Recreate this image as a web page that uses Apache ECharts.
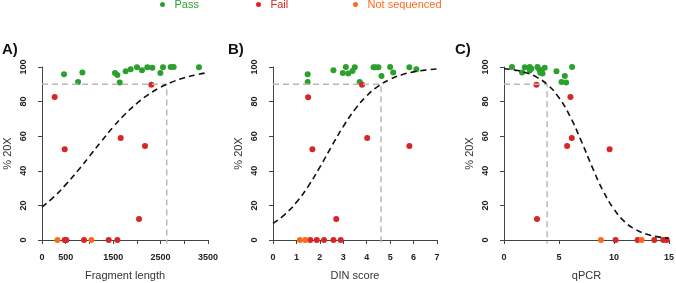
<!DOCTYPE html>
<html>
<head>
<meta charset="utf-8">
<script src="https://cdn.jsdelivr.net/npm/echarts@6/dist/echarts.min.js"></script>
<style>
  html, body { margin: 0; padding: 0; background: #fff; }
  #chart { width: 676px; height: 283px; }
</style>
</head>
<body>
<div id="chart"></div>
<script>
// ---- data ----
var passA = [[464,95.8],[760,91.4],[851,96.8],[1539,96.6],[1589,95.4],[1638,91.0],[1764,97.5],[1870,98.7],[2003,99.8],[2108,98.1],[2221,99.8],[2327,99.6],[2496,96.6],[2551,99.8],[2713,100],[2776,100],[3310,99.8]];
var failA = [[267,82.7],[478,52.5],[1659,59.0],[2172,54.4],[2045,12.1],[2305,89.8],[479,0],[514,0],[885,0],[1406,0],[1589,0]];
var nsA = [[325,0],[1041,0]];
var curveA = [[0,19],[250,24.9],[500,32],[750,39.9],[1000,48.4],[1250,57],[1500,65.3],[1750,72.7],[2000,79],[2250,84.2],[2500,88.3],[2750,91.4],[3000,93.8],[3250,95.5],[3500,96.8]];
var refA = [[0,90],[2630,90],[2630,-2]];

var passB = [[1.48,95.8],[1.48,91.4],[2.58,98.1],[2.98,96.6],[3.11,100],[3.21,96.2],[3.39,97.7],[3.49,99.8],[3.70,91.4],[4.29,99.8],[4.38,99.8],[4.50,99.8],[4.63,94.8],[5.0,100],[5.13,96.8],[5.82,99.8],[6.12,98.7]];
var failB = [[1.5,82.5],[1.68,52.5],[2.7,12.1],[4.02,59.0],[5.82,54.4],[3.8,89.8],[1.59,0],[1.87,0],[2.18,0],[2.58,0],[2.89,0]];
var nsB = [[1.15,0],[1.38,0]];
var curveB = [[0,9.6],[0.5,14.7],[1,21.8],[1.5,31],[2,42.1],[2.5,54.1],[3,65.6],[3.5,75.5],[4,83.3],[4.5,89],[5,92.9],[5.5,95.5],[6,97.2],[6.5,98.2],[7,98.9]];
var refB = [[0,90],[4.61,90],[4.61,-2]];

var passC = [[0.73,100],[1.64,96.8],[1.89,99.8],[2.34,100],[2.34,98],[2.49,99],[3.04,100],[3.19,98.7],[3.3,96.7],[3.4,98.1],[3.5,96.2],[3.7,99.6],[4.77,97.5],[5.23,91.4],[5.53,94.8],[5.65,91.0],[6.19,100]];
var failC = [[2.95,89.8],[3.0,12.1],[6.04,82.7],[6.16,59.0],[5.74,54.4],[9.6,52.5],[10.14,0],[12.15,0],[13.66,0],[14.48,0],[14.79,0]];
var nsC = [[8.81,0],[12.51,0]];
var curveC = [[0,99],[1,98.2],[2,96.7],[3,94],[4,89.5],[5,82.2],[6,71.5],[7,57.6],[8,42.4],[9,28.5],[10,17.8],[11,10.4],[12,6],[13,3.3],[14,1.8],[15,1]];
var refC = [[0,90],[3.92,90],[3.92,-2]];

var r2Labels = ['r2=0.23', 'r2=0.29', 'r2=0.72'];
var r2Pos = [[1500,39.4],[2.97,39.4],[11.6,39.4]];
var xNames = ['Fragment length', 'DIN score', 'qPCR'];
var panelNames = ['A)', 'B)', 'C)'];

var cPass = '#2ca02c', cFail = '#d92525', cNs = '#ff6a1a';
var font = 'Liberation Sans, Arial, sans-serif';

var panels = [
  {pass: passA, fail: failA, ns: nsA, curve: curveA, ref: refA},
  {pass: passB, fail: failB, ns: nsB, curve: curveB, ref: refB},
  {pass: passC, fail: failC, ns: nsC, curve: curveC, ref: refC}
];

var grids = [
  {left: 42, top: 67, width: 166, height: 173, outerBoundsMode: 'none'},
  {left: 273, top: 67, width: 164, height: 173, outerBoundsMode: 'none'},
  {left: 504, top: 67, width: 165, height: 173, outerBoundsMode: 'none'}
];

var xCfg = [
  {min: 0, max: 3500, interval: 500, fmt: function (v) { return (v === 0 || v % 1000 === 500) ? v : ''; }},
  {min: 0, max: 7, interval: 1, fmt: function (v) { return v; }},
  {min: 0, max: 15, interval: 5, fmt: function (v) { return v; }}
];

var axisCol = '#444';
var xAxes = [], yAxes = [], series = [];

for (var i = 0; i < 3; i++) {
  xAxes.push({
    gridIndex: i, type: 'value', min: xCfg[i].min, max: xCfg[i].max, interval: xCfg[i].interval,
    offset: 7,
    axisLine: {show: true, lineStyle: {color: axisCol}},
    axisTick: {show: true, length: 4, lineStyle: {color: axisCol}},
    splitLine: {show: false},
    axisLabel: {formatter: xCfg[i].fmt, fontSize: 9, fontWeight: 'bold', color: '#222', margin: 6, fontFamily: font, showMinLabel: true, showMaxLabel: true, hideOverlap: false},
    name: xNames[i], nameLocation: 'middle', nameGap: 23,
    nameTextStyle: {fontSize: 11, color: '#333', fontFamily: font}
  });
  yAxes.push({
    gridIndex: i, type: 'value', min: 0, max: 100, interval: 20,
    offset: 9,
    axisLine: {show: true, lineStyle: {color: axisCol}},
    axisTick: {show: true, length: 4, lineStyle: {color: axisCol}},
    splitLine: {show: false},
    axisLabel: {rotate: 90, fontSize: 9, fontWeight: 'bold', color: '#222', margin: 5, fontFamily: font},
    name: '% 20X', nameLocation: 'middle', nameGap: 20,
    nameTextStyle: {fontSize: 11, color: '#333', fontFamily: font}
  });

  var p = panels[i];
  series.push({
    type: 'line', xAxisIndex: i, yAxisIndex: i, data: p.ref, symbol: 'none', clip: false, silent: true,
    lineStyle: {color: '#b8b8b8', width: 1.5, type: [6, 4]}
  });
  series.push({
    name: 'Pass', type: 'scatter', xAxisIndex: i, yAxisIndex: i, data: p.pass, clip: false,
    symbolSize: 6, itemStyle: {color: cPass, opacity: 1}
  });
  series.push({
    name: 'Fail', type: 'scatter', xAxisIndex: i, yAxisIndex: i, data: p.fail, clip: false,
    symbolSize: 6, itemStyle: {color: cFail, opacity: 1}
  });
  series.push({
    name: 'Not sequenced', type: 'scatter', xAxisIndex: i, yAxisIndex: i, data: p.ns, clip: false,
    symbolSize: 6, itemStyle: {color: cNs, opacity: 1}
  });
  series.push({
    type: 'line', xAxisIndex: i, yAxisIndex: i, data: p.curve, symbol: 'none', smooth: true, clip: false, silent: true,
    lineStyle: {color: '#111', width: 1.6, type: [6, 4]}
  });
  // r2 annotation
  series.push({
    type: 'scatter', xAxisIndex: i, yAxisIndex: i, data: [r2Pos[i]], symbolSize: 1, silent: true,
    itemStyle: {opacity: 0},
    label: {show: true, position: 'inside', formatter: r2Labels[i], fontSize: 8.5, fontWeight: 'bold', color: '#111', fontFamily: font}
  });
}

function legendItem(name, color, left) {
  return {
    data: [name], left: left, top: -1, icon: 'circle', itemWidth: 14, itemHeight: 5,
    selectedMode: false, padding: 0,
    textStyle: {color: color, fontSize: 11, fontFamily: font}
  };
}

var option = {
  animation: false,
  backgroundColor: '#fff',
  grid: grids,
  xAxis: xAxes,
  yAxis: yAxes,
  legend: [
    legendItem('Pass', cPass, 160),
    legendItem('Fail', cFail, 256),
    legendItem('Not sequenced', cNs, 353)
  ],
  graphic: [
    {type: 'text', left: 2, top: 42, style: {text: panelNames[0], font: 'bold 15px ' + font, fill: '#111'}},
    {type: 'text', left: 228, top: 42, style: {text: panelNames[1], font: 'bold 15px ' + font, fill: '#111'}},
    {type: 'text', left: 455, top: 42, style: {text: panelNames[2], font: 'bold 15px ' + font, fill: '#111'}}
  ],
  series: series
};

var myChart = echarts.init(document.getElementById('chart'));
myChart.setOption(option);
</script>
</body>
</html>
